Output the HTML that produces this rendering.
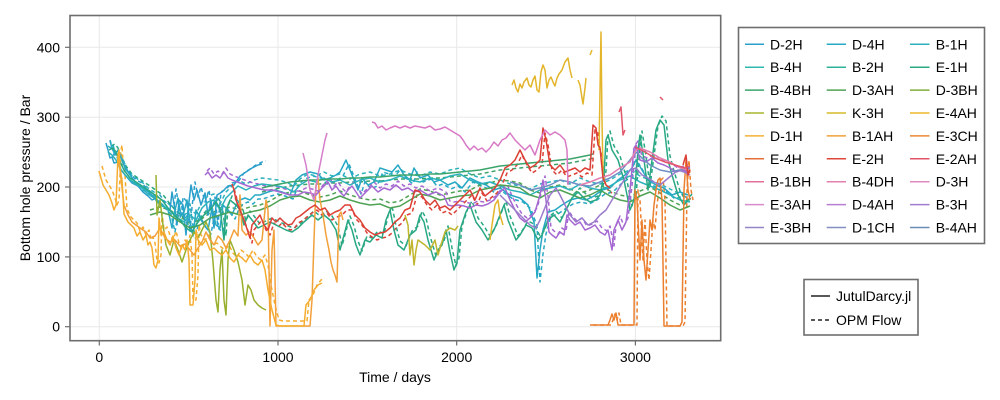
<!DOCTYPE html>
<html>
<head>
<meta charset="utf-8">
<style>
html,body{margin:0;padding:0;background:#fff;}
svg{display:block;}
text{font-family:"Liberation Sans","DejaVu Sans",sans-serif;font-size:14px;fill:#000;}
.ln{fill:none;stroke-width:1.5;stroke-linejoin:round;stroke-linecap:butt;}
.ds{fill:none;stroke-width:1.5;stroke-dasharray:4 3;stroke-linejoin:round;}
</style>
</head>
<body>
<svg width="1000" height="400" viewBox="0 0 1000 400" xmlns="http://www.w3.org/2000/svg">
<defs>
<clipPath id="pc"><rect x="70" y="15.5" width="650.7" height="325.2"/></clipPath>
<polyline id="s1" points="106,143 108,150 110,158 112,157 114,163 118,162 121,170 126,176 132,183 138,186 143,192 148,196 152,200 156,198 160,204 166,208 170,210 172,192 175,210 177,225 179,200 183,205 186,235 188,210 191,185 194,200 197,190 201,205 205,193 208,215 211,200 214,228 217,195 222,192 228,186 234,185 240,176 246,172 252,168 258,165 262,164"/>
<polyline id="s2" points="110,141 112,148 115,155 118,150 121,158 125,168 130,175 135,182 140,186 146,190 152,195 157,200 163,205 168,210 172,228 175,210 178,198 181,215 184,212 187,200 190,222 193,236 196,210 200,218 204,225 208,230 212,208 216,225 220,228 223,205 228,210 232,215 236,205 240,200 245,198 250,200 255,195 260,195 268,192 275,190 282,192 290,195 296,180 302,175 310,172 318,174 324,180 330,178 336,175 340,172 346,160 350,170 354,180 358,190 362,178 368,185 374,182 380,168 386,170 392,172 398,165 404,175 410,180 414,168 420,178 428,175 434,182 440,180 448,185 455,182 462,188 470,178 478,182 486,185 494,190 500,188 510,195 520,198 528,205 534,222 537,278 540,250 543,230 548,212 555,210 562,205 570,200 578,198 586,200 594,196 602,190 610,188 618,180 625,175 632,168 636,160 642,170 648,180 656,185 664,188 672,195 680,192 688,195"/>
<polyline id="s3" points="108,152 112,155 116,160 120,168 125,175 130,180 136,184 142,188 148,194 154,198 160,205 166,208 172,212 178,218 184,222 190,215 196,220 202,208 208,202 214,200 220,210 226,198 232,192 238,186 246,190 254,186 262,184 270,185 278,186 286,188 294,192 300,185 308,180 316,182 324,178 332,182 340,180 350,185 360,180 370,178 380,182 390,180 400,176 410,180 420,182 430,178 440,180 450,176 460,174 470,180 480,184 490,182 500,186 510,190 520,192 530,195 540,190 550,188 560,186 570,190 580,184 590,188 600,190 610,186 620,180 630,176 640,182 650,186 660,190 670,195 680,200 690,202"/>
<polyline id="s4" points="109,150 113,148 116,152 119,160 124,170 130,178 136,182 142,186 148,190 155,195 162,200 168,208 174,215 180,220 186,228 192,232 198,222 204,215 210,210 216,202 220,208 224,240 226,210 230,200 236,205 240,210 244,225 248,215 252,220 258,228 264,225 270,222 278,226 286,230 292,232 298,228 304,222 312,215 318,220 324,215 330,220 336,230 340,250 344,235 348,220 352,230 356,245 360,255 365,240 370,242 376,235 382,238 386,220 390,210 394,230 398,245 404,250 410,235 416,230 420,215 424,222 428,240 434,260 438,250 442,245 446,230 450,252 454,270 457,262 460,230 466,212 470,205 476,222 482,230 488,240 494,230 500,215 504,205 508,220 512,230 516,240 520,235 526,225 532,228 538,240 542,235 548,220 554,215 560,222 566,210 572,198 578,192 584,198 590,202 596,200 600,195 604,175 606,140 608,135 612,150 618,160 624,180 630,210 634,200 638,150 640,135 644,160 648,190 652,160 656,130 660,120 664,125 668,160 672,175 678,195 684,205 690,198"/>
<polyline id="s5" points="262,188 270,186 280,184 290,182 300,181 310,180 320,180 330,179 340,179 350,178 360,178 370,177 380,177 390,176 400,175 410,175 420,175 430,174 440,174 450,173 460,172 470,171 480,170 490,168 500,166 510,165 520,164 530,163 540,162 550,161 560,160 570,159 580,157 590,155 593,154"/>
<polyline id="s6" points="150,215 160,212 170,215 180,222 190,228 200,225 210,218 220,215 230,212 240,215 250,212 260,210 270,206 280,200 290,197 300,196 310,200 320,202 330,200 340,196 350,200 360,203 370,205 380,204 390,208 400,206 410,200 420,194 430,196 440,200 450,198 460,196 470,195 480,190 490,188 500,185 510,186 520,188 530,195 540,198 550,192 560,190 570,194 580,198 590,195 600,190 610,196 620,200 630,202 640,196 650,192 660,198 670,205 680,210 690,206"/>
<polyline id="s7" points="156,175 157,215 160,200 163,225 166,245 170,255 174,240 178,250 182,262 186,250 190,240 194,232 198,238 202,230 206,222 210,232 213,262 216,300 218,312 220,270 222,250 224,300 226,315 228,260 230,240 234,250 238,262 242,280 245,305 248,285 251,290 254,300 258,305 262,308 266,310"/>
<polyline id="s10" points="99,171 101,178 103,185 106,190 109,195 112,203 114,210 116,205 118,155 119,150 120,168 122,180 124,214 126,218 128,222 131,225 134,228 137,236 140,232 143,240 146,235 148,245 150,242 152,248 154,265 156,268 158,260 159,218 161,235 164,232 167,240 170,245 173,236 176,248 179,255 182,245 185,250 187,240 189,260 190,305 193,305 195,280 196,230 198,240 202,245 206,240 210,250 214,248 218,252 222,255 226,250 230,258 234,262 238,255 242,258 246,262 250,255 254,262 258,265 262,260 265,270 268,290 272,310 276,325 280,326 285,326 290,326 296,326 300,326 304,326 306,305 310,300 314,290 318,285 322,283"/>
<polyline id="s11" points="118,158 120,170 124,205 128,215 132,222 136,225 140,228 146,232 150,238 155,236 160,228 165,238 170,242 175,240 180,246 185,244 190,250 194,255 198,248 202,242 206,232 210,240 214,245 218,236 222,240 226,248 230,240 234,230 238,236 240,195 242,230 246,235 250,232 254,238 258,245 262,240 266,200 268,210 270,326 272,250 274,230 276,326 278,326 290,326 300,326 305,326 310,326 312,300 314,240 316,185 318,178 320,200 323,215 326,235 329,250 331,262 333,270 335,275 337,282 339,215 341,212 343,220"/>
<polyline id="s12" points="590,325 600,325 608,325 610,320 612,314 614,320 616,313 618,325 628,325 634,325 635,190 637,200 639,240 640,260 642,220 644,260 646,280 648,250 650,220 652,230 654,205 656,190 658,180 660,178 662,200 664,326 670,326 680,326 682,322 684,190 686,160 688,190 690,200"/>
<polyline id="s13" points="232,184 234,190 236,200 240,210 244,220 248,232 250,238 252,225 256,220 260,215 264,225 268,230 272,218 276,222 280,218 284,222 288,225 292,224 296,218 300,216 305,212 310,208 315,205 320,210 325,208 330,215 335,212 340,210 345,205 350,205 355,215 360,220 365,228 370,232 375,235 380,233 385,232 390,228 395,222 400,218 405,210 410,208 415,190 420,192 425,200 430,205 435,200 440,208 445,206 450,210 455,205 460,200 465,195 470,190 475,200 480,188 485,196 490,192 495,188 500,180 505,168 510,165 515,160 520,150 525,160 530,168 535,165 540,160 543,128 546,140 550,165 555,170 560,165 565,172 570,170 575,168 580,172 585,168 590,170 593,125 596,128 598,145 600,148 603,178 606,185 610,188"/>
<polyline id="s16" points="205,175 208,172 212,178 216,175 220,178 224,172 228,178 232,180 240,183 248,186 256,188 264,190 272,190 280,192 290,195 298,195 304,192 310,193 316,195 322,188 328,182 332,190 336,186 340,192 344,196 348,190 352,186 356,192 360,198 366,192 372,186 378,192 384,188 390,190 396,185 402,190 408,188 414,192 420,190 428,195 436,192 444,196 448,205 452,206 458,205 464,206 470,208 476,205 482,206 488,204 494,200 500,192 505,188 510,200 515,210 520,218 525,222 530,218 535,212 540,195 543,180 546,200 549,232 552,235 556,238 560,232 564,235 567,215 570,220 575,225 580,222 585,230 590,228 595,225 600,232 605,235 608,230 610,240 612,250 614,230 618,220 622,230 626,222 630,190 634,148 636,145 640,160 646,162 652,158 658,163 664,165 670,168 676,172 682,170 688,172"/>
</defs>

<!-- grid -->
<g stroke="#e8e8e8" stroke-width="1">
<line x1="99.3" y1="15.5" x2="99.3" y2="340.7"/>
<line x1="278" y1="15.5" x2="278" y2="340.7"/>
<line x1="456.7" y1="15.5" x2="456.7" y2="340.7"/>
<line x1="635.4" y1="15.5" x2="635.4" y2="340.7"/>
<line x1="70" y1="326.7" x2="720.7" y2="326.7"/>
<line x1="70" y1="256.9" x2="720.7" y2="256.9"/>
<line x1="70" y1="187" x2="720.7" y2="187"/>
<line x1="70" y1="117.2" x2="720.7" y2="117.2"/>
<line x1="70" y1="47.3" x2="720.7" y2="47.3"/>
</g>

<g clip-path="url(#pc)">
<!-- dashed (OPM Flow) -->
<use href="#s2" class="ds" stroke="#27a8c4" transform="translate(3,4)"/>
<use href="#s3" class="ds" stroke="#2cb2bc" transform="translate(0,-6)"/>
<use href="#s4" class="ds" stroke="#28a883" transform="translate(2,-4)"/>
<use href="#s5" class="ds" stroke="#3ba46a" transform="translate(0,4)"/>
<use href="#s6" class="ds" stroke="#4fa254" transform="translate(0,-5)"/>
<use href="#s10" class="ds" stroke="#f5ad30" transform="translate(3,-5)"/>
<use href="#s12" class="ds" stroke="#ec7f2e" transform="translate(3,0)"/>
<use href="#s13" class="ds" stroke="#dc3f35" transform="translate(2,5)"/>
<use href="#s16" class="ds" stroke="#a568d2" transform="translate(2,-4)"/>
<use href="#s1" class="ds" stroke="#2a9fcb" transform="translate(4,-3)"/>

<!-- solid (JutulDarcy) -->
<use href="#s1" class="ln" stroke="#2a9fcb"/>
<use href="#s2" class="ln" stroke="#27a8c4"/>
<use href="#s3" class="ln" stroke="#2cb2bc"/>
<use href="#s6" class="ln" stroke="#4fa254"/>
<use href="#s4" class="ln" stroke="#28a883"/>
<use href="#s5" class="ln" stroke="#3ba46a"/>
<use href="#s7" class="ln" stroke="#98b02e"/>
<polyline class="ln" stroke="#c0b52c" points="405,215 408,225 410,255 412,240 414,265 416,250 418,240 425,245 430,250 435,240 438,255 440,248 445,232 450,228 455,230 458,226"/>
<polyline class="ln" stroke="#e3b52a" points="490,240 492,225 495,205 498,200 500,215 503,225"/>
<path class="ln" stroke="#e3b52a" d="M512,85 L514,80 L516,88 L518,92 L520,84 L522,88 L524,82 L527,78 L529,85 L531,87 L533,80 L535,76 L537,90 L539,92 L541,72 L543,65 L545,70 L547,88 L549,80 L551,77 L553,82 L555,86 L557,78 L559,74 L562,70 L565,62 L568,58 L570,70 L572,78 M578,80 L580,85 L582,98 L583,104 L585,88 L586,78 M590,55 L592,50 M599,150 L601,32 L602,120 L603,175 L606,185"/>
<use href="#s11" class="ln" stroke="#f2a03a"/>
<use href="#s10" class="ln" stroke="#f5ad30"/>
<use href="#s12" class="ln" stroke="#ec7f2e"/>
<use href="#s16" class="ln" stroke="#a568d2"/>
<polyline class="ln" stroke="#9a7bcc" points="500,195 510,205 520,215 530,225 536,228 540,220 546,205 550,195 556,188 560,195 565,205 570,215 576,222 582,218 588,225 594,222 600,215 606,210 612,200 618,190 624,180 630,170 636,168 642,175 648,178 654,182 660,185 666,180 672,175 678,170 684,172 690,175"/>
<polyline class="ln" stroke="#6f8ec4" points="510,182 520,185 530,190 540,188 550,185 560,180 570,182 580,185 590,186 600,182 610,178 620,172 630,160 636,152 642,158 650,165 660,170 670,172 680,170 690,168"/>
<polyline class="ln" stroke="#e37fb0" points="580,185 590,182 600,178 610,175 620,168 630,162 636,150 640,148 650,152 660,158 670,162 680,168 690,170"/>
<use href="#s13" class="ln" stroke="#dc3f35"/>
<path class="ln" stroke="#dc3f35" d="M683,165 L686,155 L688,175 L690,170"/>
<path class="ln" stroke="#e2566a" d="M619,112 L621,107 L623,135 L625,130 M660,97 L663,100 M635,147 L645,152 L655,158 L665,162 L675,165 L685,168 L690,166"/>
<path class="ln" stroke="#d878c4" d="M372,122 L375,123 L378,128 L382,126 L386,130 L390,128 L395,126 L400,128 L405,126 L410,128 L415,126 L420,127 L425,128 L430,126 L435,130 L440,129 L445,127 L450,130 L455,133 L460,136 L463,140 L466,145 L470,150 L474,146 L478,150 L482,148 L486,152 L490,148 L494,142 L498,146 L502,140 L506,138 L510,133 L515,140 L520,145 L525,150 L530,145 L535,155 L540,140 L545,130 L550,135 L555,132 L560,135 L565,140 L567,150 L568,185"/>
<polyline class="ln" stroke="#d57fcb" points="303,153 306,165 310,190 314,200 318,175 322,155 325,140 327,133"/>
</g>

<!-- frame -->
<rect x="70" y="15.5" width="650.7" height="325.2" fill="none" stroke="#6e6e6e" stroke-width="1.6"/>

<!-- ticks -->
<g stroke="#6e6e6e" stroke-width="1.2">
<line x1="99.3" y1="341" x2="99.3" y2="345.5"/>
<line x1="278" y1="341" x2="278" y2="345.5"/>
<line x1="456.7" y1="341" x2="456.7" y2="345.5"/>
<line x1="635.4" y1="341" x2="635.4" y2="345.5"/>
<line x1="65" y1="326.7" x2="70" y2="326.7"/>
<line x1="65" y1="256.9" x2="70" y2="256.9"/>
<line x1="65" y1="187" x2="70" y2="187"/>
<line x1="65" y1="117.2" x2="70" y2="117.2"/>
<line x1="65" y1="47.3" x2="70" y2="47.3"/>
</g>

<g text-anchor="middle">
<text x="99.3" y="362">0</text>
<text x="278" y="362">1000</text>
<text x="456.7" y="362">2000</text>
<text x="635.4" y="362">3000</text>
<text x="395" y="382">Time / days</text>
</g>
<g text-anchor="end">
<text x="60" y="331.7">0</text>
<text x="60" y="261.9">100</text>
<text x="60" y="192">200</text>
<text x="60" y="122.2">300</text>
<text x="60" y="52.3">400</text>
</g>
<text text-anchor="middle" transform="translate(30,178) rotate(-90)">Bottom hole pressure / Bar</text>

<!-- legend 1 -->
<rect x="738.5" y="27.5" width="246" height="216" fill="#fff" stroke="#6e6e6e" stroke-width="1.6"/>
<g stroke-width="1.5">
<line x1="745" y1="44.3" x2="764" y2="44.3" stroke="#2a9fcb"/>
<line x1="826.7" y1="44.3" x2="846" y2="44.3" stroke="#27a8c4"/>
<line x1="910" y1="44.3" x2="929.5" y2="44.3" stroke="#2cb2bc"/>
<line x1="745" y1="67.2" x2="764" y2="67.2" stroke="#2fb8b0"/>
<line x1="826.7" y1="67.2" x2="846" y2="67.2" stroke="#2eb39a"/>
<line x1="910" y1="67.2" x2="929.5" y2="67.2" stroke="#28a883"/>
<line x1="745" y1="90.1" x2="764" y2="90.1" stroke="#3ba46a"/>
<line x1="826.7" y1="90.1" x2="846" y2="90.1" stroke="#4fa254"/>
<line x1="910" y1="90.1" x2="929.5" y2="90.1" stroke="#80ad3c"/>
<line x1="745" y1="113" x2="764" y2="113" stroke="#a8b62f"/>
<line x1="826.7" y1="113" x2="846" y2="113" stroke="#d5ba28"/>
<line x1="910" y1="113" x2="929.5" y2="113" stroke="#ecb82a"/>
<line x1="745" y1="135.9" x2="764" y2="135.9" stroke="#f4b134"/>
<line x1="826.7" y1="135.9" x2="846" y2="135.9" stroke="#f1a03a"/>
<line x1="910" y1="135.9" x2="929.5" y2="135.9" stroke="#ec8835"/>
<line x1="745" y1="158.8" x2="764" y2="158.8" stroke="#e66e38"/>
<line x1="826.7" y1="158.8" x2="846" y2="158.8" stroke="#df4637"/>
<line x1="910" y1="158.8" x2="929.5" y2="158.8" stroke="#e25569"/>
<line x1="745" y1="181.7" x2="764" y2="181.7" stroke="#e2709a"/>
<line x1="826.7" y1="181.7" x2="846" y2="181.7" stroke="#e381ae"/>
<line x1="910" y1="181.7" x2="929.5" y2="181.7" stroke="#e08ac0"/>
<line x1="745" y1="204.6" x2="764" y2="204.6" stroke="#d88ccb"/>
<line x1="826.7" y1="204.6" x2="846" y2="204.6" stroke="#b77fd2"/>
<line x1="910" y1="204.6" x2="929.5" y2="204.6" stroke="#a07ccd"/>
<line x1="745" y1="227.5" x2="764" y2="227.5" stroke="#9585c6"/>
<line x1="826.7" y1="227.5" x2="846" y2="227.5" stroke="#828fc0"/>
<line x1="910" y1="227.5" x2="929.5" y2="227.5" stroke="#6b8db5"/>
</g>
<g>
<text x="770" y="49.3">D-2H</text><text x="852" y="49.3">D-4H</text><text x="935.7" y="49.3">B-1H</text>
<text x="770" y="72.2">B-4H</text><text x="852" y="72.2">B-2H</text><text x="935.7" y="72.2">E-1H</text>
<text x="770" y="95.1">B-4BH</text><text x="852" y="95.1">D-3AH</text><text x="935.7" y="95.1">D-3BH</text>
<text x="770" y="118">E-3H</text><text x="852" y="118">K-3H</text><text x="935.7" y="118">E-4AH</text>
<text x="770" y="140.9">D-1H</text><text x="852" y="140.9">B-1AH</text><text x="935.7" y="140.9">E-3CH</text>
<text x="770" y="163.8">E-4H</text><text x="852" y="163.8">E-2H</text><text x="935.7" y="163.8">E-2AH</text>
<text x="770" y="186.7">B-1BH</text><text x="852" y="186.7">B-4DH</text><text x="935.7" y="186.7">D-3H</text>
<text x="770" y="209.6">E-3AH</text><text x="852" y="209.6">D-4AH</text><text x="935.7" y="209.6">B-3H</text>
<text x="770" y="232.5">E-3BH</text><text x="852" y="232.5">D-1CH</text><text x="935.7" y="232.5">B-4AH</text>
</g>

<!-- legend 2 -->
<rect x="804" y="279.5" width="114" height="55.5" fill="#fff" stroke="#6e6e6e" stroke-width="1.6"/>
<line x1="811" y1="296" x2="830" y2="296" stroke="#222" stroke-width="1.5"/>
<line x1="811" y1="320" x2="830" y2="320" stroke="#222" stroke-width="1.5" stroke-dasharray="4 3"/>
<text x="836" y="301">JutulDarcy.jl</text>
<text x="836" y="325">OPM Flow</text>
</svg>
</body>
</html>
